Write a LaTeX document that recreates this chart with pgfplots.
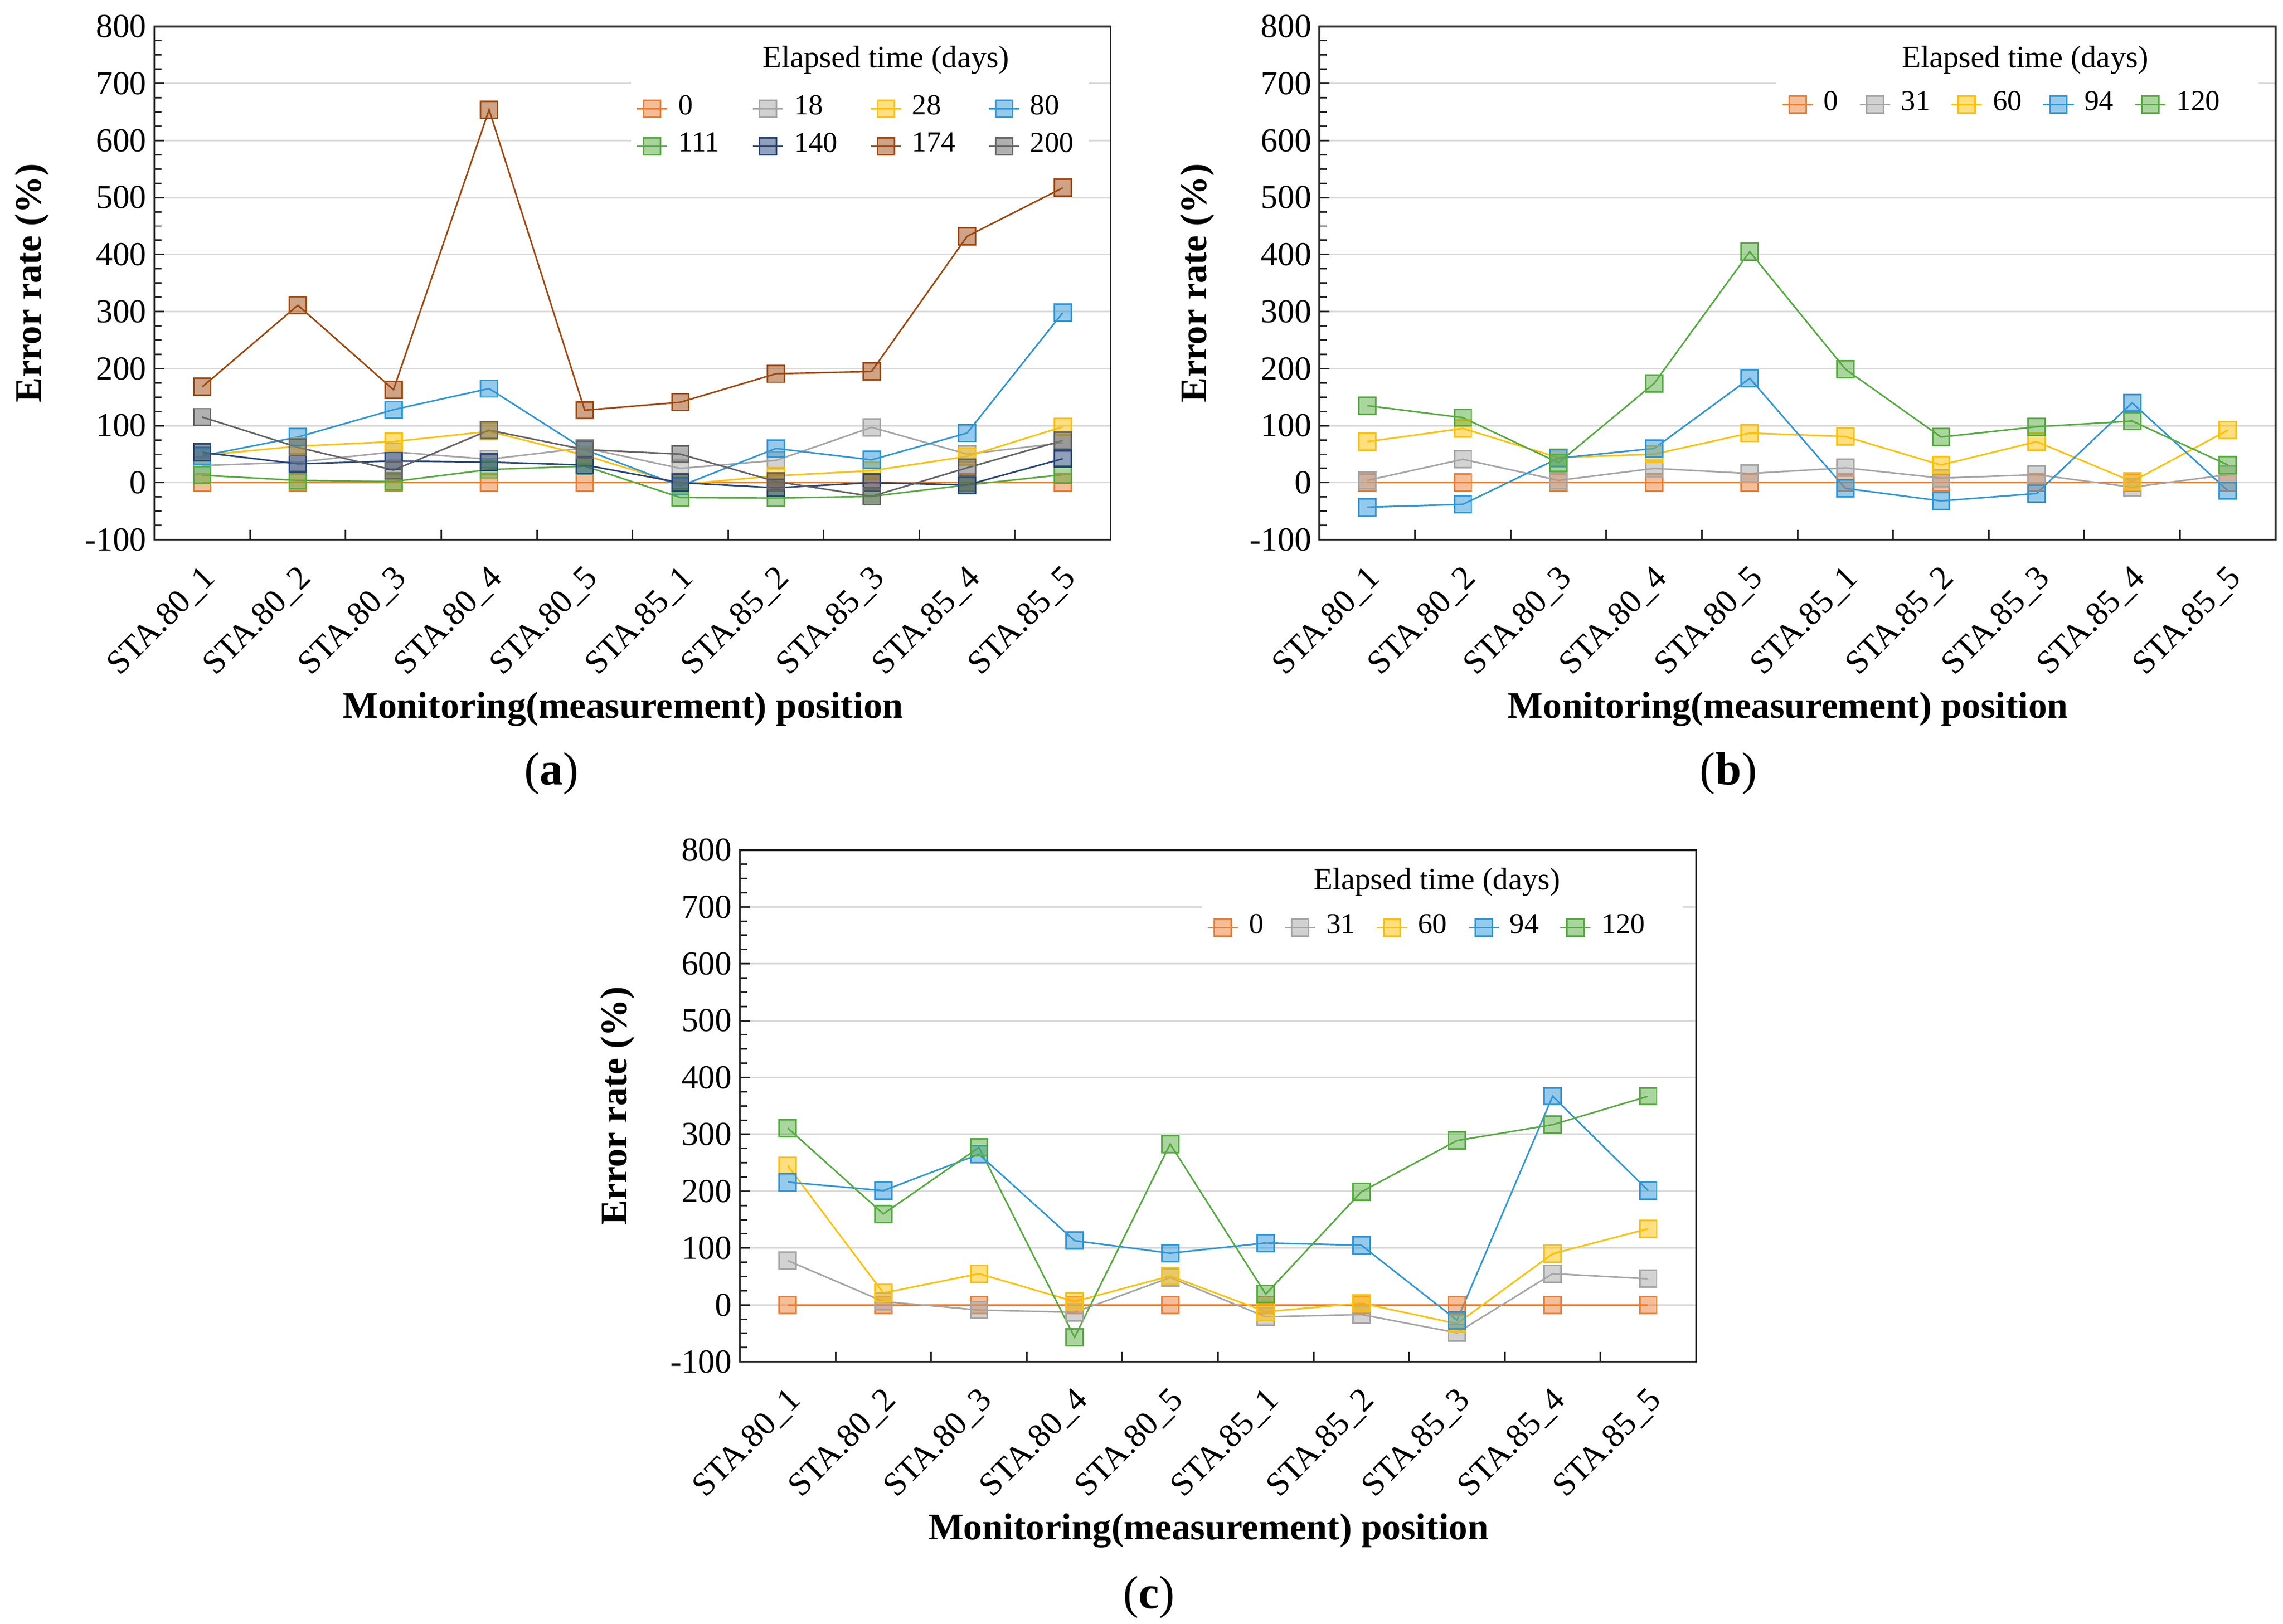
\documentclass[border=0pt]{standalone}
\usepackage{fontspec}
\setmainfont{Liberation Serif}
\usepackage{pgfplots}
\usepackage{pgfplotstable}
\pgfplotsset{compat=1.18}
\definecolor{c0}{HTML}{ED7D31}
\definecolor{c1}{HTML}{A5A5A5}
\definecolor{c2}{HTML}{FFC000}
\definecolor{c3}{HTML}{2E96D8}
\definecolor{c4}{HTML}{55AB3F}
\definecolor{c5}{HTML}{264478}
\definecolor{c6}{HTML}{9E480E}
\definecolor{c7}{HTML}{636363}
\definecolor{gridc}{HTML}{D9D9D9}

\pgfplotstableread{
x d0 d18 d28 d80 d111 d140 d174 d200
0 0 30 48 47 13 53 168 115
1 0 36 64 80 4 33 311 62
2 0 54 72 128 2 38 163 22
3 0 41 90 165 23 36 654 92
4 0 61 48 58 29 31 127 58
5 0 25 -3 -6 -26 0 141 50
6 0 39 12 60 -27 -9 191 2
7 0 97 21 40 -24 0 195 -24
8 0 50 46 87 -4 -4 432 26
9 0 70 98 298 14 42 517 74
}\tA

\pgfplotstableread{
x d0 d31 d60 d94 d120
0 0 4 72 -43 135
1 0 41 95 -38 114
2 0 4 44 43 35
3 0 25 50 60 174
4 0 16 87 183 405
5 0 26 81 -10 199
6 0 8 31 -32 80
7 0 14 72 -19 98
8 0 -8 2 140 108
9 0 14 92 -14 31
}\tB

\pgfplotstableread{
x d0 d31 d60 d94 d120
0 0 78 245 216 311
1 0 6 21 201 160
2 0 -9 55 265 277
3 0 -13 6 113 -57
4 0 48 51 91 283
5 0 -21 -12 109 19
6 0 -17 3 105 199
7 0 -49 -33 -27 289
8 0 55 90 367 317
9 0 46 134 201 367
}\tC

\pgfplotsset{
  ser/.style={color=#1, line width=0.3pt, mark=square*, mark size=1.63pt,
    mark options={solid, fill=#1, fill opacity=0.5, draw=#1, line width=0.3pt}},
  panel/.style={
    scale only axis, width=6.5cm, height=3.49cm, anchor=south west,
    xmin=-0.5, xmax=9.5, ymin=-100, ymax=800,
    xtick={0.5,1.5,...,8.5}, xticklabels={},
    extra x ticks={0,1,...,9},
    extra x tick labels={\textrm{STA.80\_1},\textrm{STA.80\_2},\textrm{STA.80\_3},\textrm{STA.80\_4},\textrm{STA.80\_5},\textrm{STA.85\_1},\textrm{STA.85\_2},\textrm{STA.85\_3},\textrm{STA.85\_4},\textrm{STA.85\_5}},
    extra x tick style={major tick length=0pt, grid=none},
    ytick={-100,0,100,200,300,400,500,600,700,800},
    yticklabels={\textrm{-100},\textrm{0},\textrm{100},\textrm{200},\textrm{300},\textrm{400},\textrm{500},\textrm{600},\textrm{700},\textrm{800}},
    minor y tick num=3,
    tick align=inside, xtick pos=bottom, ytick pos=left,
    major tick length=0.066cm, minor tick length=0.048cm,
    ymajorgrids, major grid style={gridc, line width=0.3pt},
    axis line style={black!85, line width=0.35pt},
    every tick/.style={black!85, line width=0.3pt},
    tick label style={font=\rmfamily\fontsize{6.5}{7}\selectfont},
    yticklabel style={xshift=0.07cm},
    xticklabel style={rotate=45, anchor=east, yshift=-0.2cm, xshift=0.0cm},
    every axis x label/.style={at={(axis description cs:0.49,-0.33)}, anchor=center, font=\rmfamily\fontsize{7.25}{8}\selectfont\bfseries},
    every axis y label/.style={at={(axis description cs:-0.128,0.5)}, rotate=90, anchor=center, font=\rmfamily\fontsize{7.25}{8}\selectfont\bfseries},
    xlabel={Monitoring(measurement) position},
    ylabel={Error rate (\%)},
    legend image code/.code={\draw[mark repeat=2,mark phase=2] plot coordinates {(0cm,0cm) (0.103cm,0cm) (0.206cm,0cm)};},
    legend cell align=left,
    legend style={draw=none, fill=white, anchor=center, font=\rmfamily\fontsize{5.6}{6}\selectfont, row sep=-2pt, inner sep=1pt},
  }
}

\begin{document}
\begin{tikzpicture}
\useasboundingbox (0,0) rectangle (15.52,11.04);

% (a)
\begin{axis}[panel, at={(1.05cm,7.37cm)}, legend columns=4,
  legend style={at={(rel axis cs:0.738,0.803)}, /tikz/every even column/.append style={column sep=0.15cm}}]
\addplot[ser=c0] table[x=x,y=d0]{\tA};
\addplot[ser=c1] table[x=x,y=d18]{\tA};
\addplot[ser=c2] table[x=x,y=d28]{\tA};
\addplot[ser=c3] table[x=x,y=d80]{\tA};
\addplot[ser=c4] table[x=x,y=d111]{\tA};
\addplot[ser=c5] table[x=x,y=d140]{\tA};
\addplot[ser=c6] table[x=x,y=d174]{\tA};
\addplot[ser=c7] table[x=x,y=d200]{\tA};
\legend{0,18,28,80,111,140,174,200}
\fill[white] (rel axis cs:0.608,0.87) rectangle (rel axis cs:0.915,0.985);
\node[font=\rmfamily\fontsize{6}{7}\selectfont] at (rel axis cs:0.765,0.934) {Elapsed time (days)};
\end{axis}

% (b)
\begin{axis}[panel, at={(8.97cm,7.37cm)}, legend columns=5,
  legend style={at={(rel axis cs:0.718,0.848)}, /tikz/every even column/.append style={column sep=0.07cm}}]
\addplot[ser=c0] table[x=x,y=d0]{\tB};
\addplot[ser=c1] table[x=x,y=d31]{\tB};
\addplot[ser=c2] table[x=x,y=d60]{\tB};
\addplot[ser=c3] table[x=x,y=d94]{\tB};
\addplot[ser=c4] table[x=x,y=d120]{\tB};
\legend{0,31,60,94,120}
\fill[white] (rel axis cs:0.48,0.808) rectangle (rel axis cs:0.982,0.985);
\node[font=\rmfamily\fontsize{6}{7}\selectfont] at (rel axis cs:0.738,0.934) {Elapsed time (days)};
\end{axis}

% (c)
\begin{axis}[panel, at={(5.03cm,1.78cm)}, height=3.48cm, legend columns=5,
  legend style={at={(rel axis cs:0.723,0.848)}, /tikz/every even column/.append style={column sep=0.07cm}}]
\addplot[ser=c0] table[x=x,y=d0]{\tC};
\addplot[ser=c1] table[x=x,y=d31]{\tC};
\addplot[ser=c2] table[x=x,y=d60]{\tC};
\addplot[ser=c3] table[x=x,y=d94]{\tC};
\addplot[ser=c4] table[x=x,y=d120]{\tC};
\legend{0,31,60,94,120}
\fill[white] (rel axis cs:0.486,0.808) rectangle (rel axis cs:0.986,0.985);
\node[font=\rmfamily\fontsize{6}{7}\selectfont] at (rel axis cs:0.729,0.937) {Elapsed time (days)};
\end{axis}

\node[font=\rmfamily\fontsize{9}{10}\selectfont] at (3.75,5.78) {(\textbf{a})};
\node[font=\rmfamily\fontsize{9}{10}\selectfont] at (11.75,5.78) {(\textbf{b})};
\node[font=\rmfamily\fontsize{9}{10}\selectfont] at (7.81,0.18) {(\textbf{c})};
\end{tikzpicture}
\end{document}
